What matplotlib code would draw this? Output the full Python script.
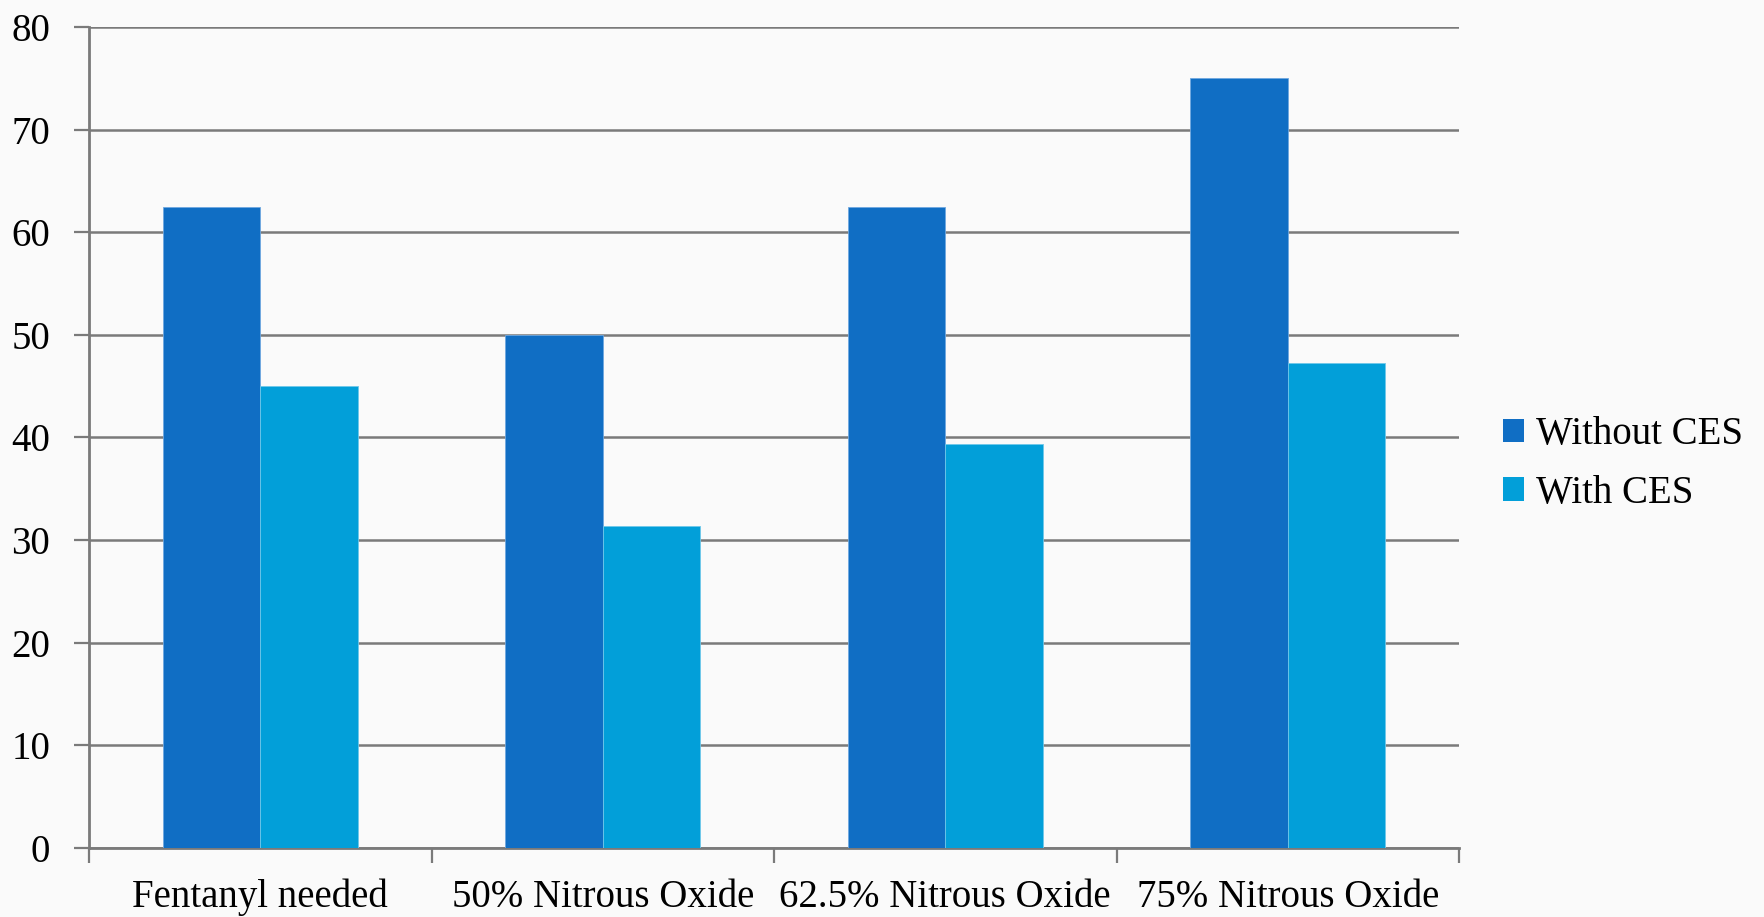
import matplotlib
matplotlib.use("Agg")
import matplotlib.pyplot as plt
from matplotlib.patches import Patch
import numpy as np

categories = ["Fentanyl needed", "50% Nitrous Oxide", "62.5% Nitrous Oxide", "75% Nitrous Oxide"]
series_names = ["Without CES", "With CES"]
without_ces = [62.5, 50.0, 62.5, 75.0]
with_ces = [45.0, 31.4, 39.4, 47.3]
y_ticks = [0, 10, 20, 30, 40, 50, 60, 70, 80]

dark = "#106EC4"
light = "#029FD9"
grid_c = "#7a7a7a"
font = ["Liberation Serif", "DejaVu Serif"]
plt.rcParams["font.family"] = font

W, H = 1765, 917
fig = plt.figure(figsize=(W / 100, H / 100), dpi=100)
fig.patch.set_facecolor("#fafafa")
ax = fig.add_axes([89 / W, (H - 848) / H, (1459 - 89) / W, (848 - 27) / H])
ax.set_facecolor("#fafafa")

x = np.arange(len(categories))
bw = 0.285
ax.bar(x - bw / 2, without_ces, width=bw, color=dark, edgecolor="#6fa8e0", linewidth=0.6, zorder=3)
ax.bar(x + bw / 2, with_ces, width=bw, color=light, edgecolor="#6fc8ea", linewidth=0.6, zorder=3)

ax.set_xlim(-0.5, len(categories) - 0.5)
ax.set_ylim(0, 80)
ax.set_yticks(y_ticks)
ax.set_yticklabels([str(v) for v in y_ticks], fontsize=28)
ax.yaxis.grid(True, color=grid_c, linewidth=1.8, zorder=1)
ax.set_axisbelow(True)
ax.tick_params(axis="y", length=11, width=1.6, color=grid_c, pad=17)

ax.set_xticks(x)
ax.set_xticklabels(categories, fontsize=28)
ax.tick_params(axis="x", length=0, pad=22)
ax.set_xticks(np.arange(-0.5, len(categories)), minor=True)
ax.tick_params(axis="x", which="minor", length=11, width=1.6, color=grid_c)

for s in ["top", "right"]:
    ax.spines[s].set_visible(False)
for s in ["left", "bottom"]:
    ax.spines[s].set_color(grid_c)
    ax.spines[s].set_linewidth(2.0)

handles = [Patch(facecolor=dark, edgecolor="none"), Patch(facecolor=light, edgecolor="none")]
fig.legend(handles, series_names, loc="center left", bbox_to_anchor=(1503 / W, 1 - 464 / H),
           frameon=False, fontsize=28, handlelength=0.55, handleheight=0.55,
           handletextpad=0.3, labelspacing=0.55, borderaxespad=0, borderpad=0)

fig.savefig("out.png", dpi=100, facecolor=fig.get_facecolor())
